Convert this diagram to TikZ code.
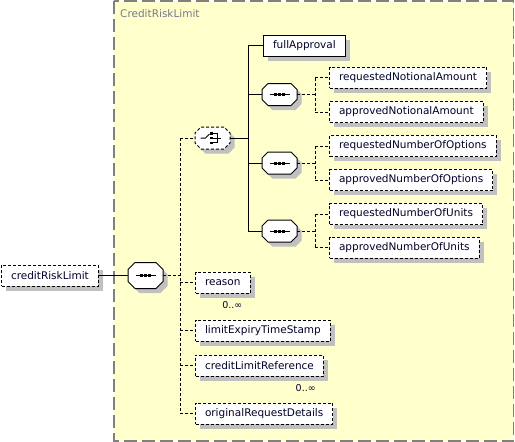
\documentclass[tikz,border=0pt]{standalone}
\usepackage{fontspec}
\setmainfont{DejaVu Sans}
\usetikzlibrary{shadows,calc}
\definecolor{bgyellow}{RGB}{255,255,204}
\definecolor{shgray}{RGB}{192,192,192}
\definecolor{framegray}{RGB}{128,128,128}
\definecolor{titlecol}{RGB}{120,120,140}
\definecolor{txtcol}{RGB}{0,0,40}
\tikzset{
  shad/.style={drop shadow={shadow xshift=4.5pt, shadow yshift=-4.5pt, fill=shgray, opacity=1}},
  elem/.style={draw=black, fill=white, line width=1pt, minimum height=21pt,
    inner xsep=9.5pt, inner ysep=0pt, anchor=west, text=txtcol,
    font=\fontsize{10.5}{12}\selectfont, shad},
  optelem/.style={elem, dash pattern=on 3pt off 2pt},
  conn/.style={line width=1pt},
  optconn/.style={line width=1pt, dash pattern=on 3pt off 2pt},
  mult/.style={font=\fontsize{9.5}{11}\selectfont, inner sep=0pt, anchor=east, text=txtcol},
  octo/.style={draw=black, fill=white, line width=1pt, shad},
  optocto/.style={octo, dash pattern=on 3pt off 2pt},
  seqicon/.pic={
    \draw[line width=1pt] (-10,0) -- (10,0);
    \fill (-5.5,-1.5) rectangle (-2.5,1.5);
    \fill (-1.5,-1.5) rectangle (1.5,1.5);
    \fill (2.5,-1.5) rectangle (5.5,1.5);
  },
  choiceicon/.pic={
    \draw[line width=1pt] (-12,0) -- (-7,0) -- (-3,-4);
    \fill (-2.5,-6) rectangle (0,-3.5);
    \fill (-2.5,-1.25) rectangle (0,1.25);
    \fill (-2.5,3.5) rectangle (0,6);
    \draw[line width=1pt] (0,-4.75) -- (4.5,-4.75) -- (4.5,4.75) -- (0,4.75);
    \draw[line width=1pt] (0,0) -- (8.5,0);
  }
}
% name, x, y, half width, half height, chamfer, style
\newcommand\octagon[7]{%
  \node[inner sep=0pt, minimum width=#4*2pt, minimum height=#5*2pt] (#1) at (#2,#3) {};
  \path[#7, shift={(#2,#3)}] (-#4+#6,-#5) -- (#4-#6,-#5) -- (#4,-#5+#6) -- (#4,#5-#6)
    -- (#4-#6,#5) -- (-#4+#6,#5) -- (-#4,#5-#6) -- (-#4,-#5+#6) -- cycle;
}
\begin{document}
\begin{tikzpicture}[x=1pt,y=-1pt]
\useasboundingbox (0,0) rectangle (515,442);
% frame
\draw[framegray, fill=bgyellow, line width=1.5pt, dash pattern=on 13pt off 5pt]
  (114,1) rectangle (513.5,441);
\node[anchor=west, inner sep=0pt, text=titlecol, font=\fontsize{10.5}{12}\selectfont]
  (title) at (120,13.5) {CreditRiskLimit};

% root element
\node[optelem] (crl) at (1,275.5) {creditRiskLimit};

% compositors
\octagon{mseq}{145.5}{275.5}{17.5}{13}{7}{octo}
\pic at (mseq.center) {seqicon};
\octagon{choice}{212.5}{138}{17.5}{11}{6}{optocto}
\pic at (choice.center) {choiceicon};
\octagon{sa}{279.5}{94.5}{17.5}{11}{6}{octo}
\pic at (sa.center) {seqicon};
\octagon{sb}{279.5}{163}{17.5}{11}{6}{octo}
\pic at (sb.center) {seqicon};
\octagon{sc}{279.5}{231}{17.5}{11}{6}{octo}
\pic at (sc.center) {seqicon};

% elements under choice
\node[elem] (fa) at (263,45.5) {fullApproval};
\node[optelem] (rna) at (329,77.5) {requestedNotionalAmount};
\node[optelem] (ana) at (329,112) {approvedNotionalAmount};
\node[optelem] (rno) at (329,146) {requestedNumberOfOptions};
\node[optelem] (ano) at (329,180) {approvedNumberOfOptions};
\node[optelem] (rnu) at (329,214) {requestedNumberOfUnits};
\node[optelem] (anu) at (329,247.5) {approvedNumberOfUnits};

% elements under main sequence
\node[optelem] (rea) at (195,282.5) {reason};
\node[mult] (reamult) at ($(rea.south east)+(-8,12)$) {0..∞};
\node[optelem] (let) at (195,330.5) {limitExpiryTimeStamp};
\node[optelem] (clr) at (195,365.5) {creditLimitReference};
\node[mult] (clrmult) at ($(clr.south east)+(-8,12)$) {0..∞};
\node[optelem] (ord) at (195,413.5) {originalRequestDetails};

% connectors: root to main sequence
\draw[conn] (crl.east) -- (mseq.west);
\coordinate (mbus) at (180,275.5);
\draw[optconn] (mseq.east) -- (mbus);
\draw[optconn] (mbus |- choice.west) -- (mbus |- ord.west);
\foreach \n in {choice,rea,let,clr,ord}
  \draw[optconn] (mbus |- \n.west) -- (\n.west);

% choice bus
\coordinate (cbus) at (248,138);
\draw[conn] (choice.east) -- (cbus);
\draw[conn] (cbus |- fa.west) -- (cbus |- sc.west);
\foreach \n in {fa,sa,sb,sc}
  \draw[conn] (cbus |- \n.west) -- (\n.west);

% sequence buses
\coordinate (abus) at (315,94.5);
\draw[optconn] (sa.east) -- (abus);
\draw[optconn] (abus |- rna.west) -- (abus |- ana.west);
\draw[optconn] (abus |- rna.west) -- (rna.west);
\draw[optconn] (abus |- ana.west) -- (ana.west);

\coordinate (bbus) at (315,163);
\draw[optconn] (sb.east) -- (bbus);
\draw[optconn] (bbus |- rno.west) -- (bbus |- ano.west);
\draw[optconn] (bbus |- rno.west) -- (rno.west);
\draw[optconn] (bbus |- ano.west) -- (ano.west);

\coordinate (ccbus) at (315,231);
\draw[optconn] (sc.east) -- (ccbus);
\draw[optconn] (ccbus |- rnu.west) -- (ccbus |- anu.west);
\draw[optconn] (ccbus |- rnu.west) -- (rnu.west);
\draw[optconn] (ccbus |- anu.west) -- (anu.west);
\end{tikzpicture}
\end{document}
